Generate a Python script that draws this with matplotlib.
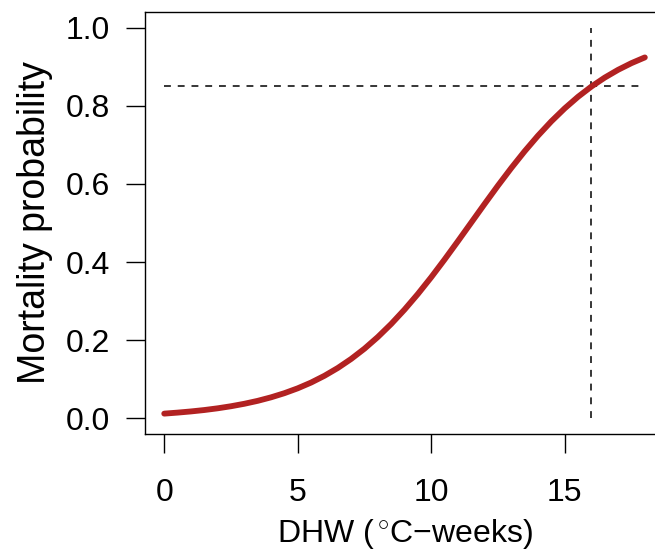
import matplotlib
matplotlib.use("Agg")
import matplotlib.pyplot as plt

plt.rcParams['font.family'] = ['Liberation Sans', 'DejaVu Sans']
plt.rcParams['mathtext.fontset'] = 'custom'
plt.rcParams['mathtext.rm'] = 'Liberation Sans'
plt.rcParams['mathtext.it'] = 'Liberation Sans'

# Degree heating weeks and fitted mortality probability
dhw = [0, 0.5, 1, 1.5, 2, 2.5, 3, 3.5, 4, 4.5, 5, 5.5, 6, 6.5, 7, 7.5, 8, 8.5,
       9, 9.5, 10, 10.5, 11, 11.5, 12, 12.5, 13, 13.5, 14, 14.5, 15, 15.5,
       16, 16.5, 17, 17.5, 18]
mortality = [0.0121, 0.0147, 0.0177, 0.0213, 0.0257, 0.0310, 0.0373, 0.0448,
             0.0538, 0.0644, 0.0769, 0.0916, 0.1089, 0.1289, 0.1520, 0.1783,
             0.2082, 0.2415, 0.2783, 0.3183, 0.3612, 0.4065, 0.4534, 0.5011,
             0.5488, 0.5957, 0.6408, 0.6836, 0.7235, 0.7602, 0.7933, 0.8230,
             0.8492, 0.8721, 0.8920, 0.9091, 0.9237]

threshold_dhw = 16
threshold_prob = 0.85

x_ticks = [0, 5, 10, 15]
y_ticks = [0.0, 0.2, 0.4, 0.6, 0.8, 1.0]
y_ticklabels = ["0.0", "0.2", "0.4", "0.6", "0.8", "1.0"]

fig = plt.figure(figsize=(6.55, 5.52), dpi=100)
ax = fig.add_axes([0.2214, 0.2138, 0.7924, 0.7645])

ax.plot(dhw, mortality, color='#B22222', lw=4.2, solid_capstyle='round', zorder=3)
ax.plot([0, 18], [threshold_prob, threshold_prob], color='black', lw=1.1,
        dashes=(4.5, 4.5), zorder=2)
ax.plot([threshold_dhw, threshold_dhw], [0, 1], color='black', lw=1.1,
        dashes=(4.5, 4.5), zorder=2)

ax.set_xlim(-0.72, 18.72)
ax.set_ylim(-0.04, 1.04)
ax.set_xticks(x_ticks)
ax.set_xticklabels([str(t) for t in x_ticks])
ax.set_yticks(y_ticks)
ax.set_yticklabels(y_ticklabels)

for s in ax.spines.values():
    s.set_linewidth(1.0)

ax.tick_params(axis='both', direction='out', length=14, width=1.0,
               labelsize=23)
ax.tick_params(axis='x', pad=18)
ax.tick_params(axis='y', pad=11)

ax.set_xlabel('DHW ($\\,^{\\circ}$C\u2212weeks)', fontsize=23, labelpad=6)
ax.set_ylabel('Mortality probability', fontsize=27, labelpad=9)

fig.savefig('out.png', dpi=100)
